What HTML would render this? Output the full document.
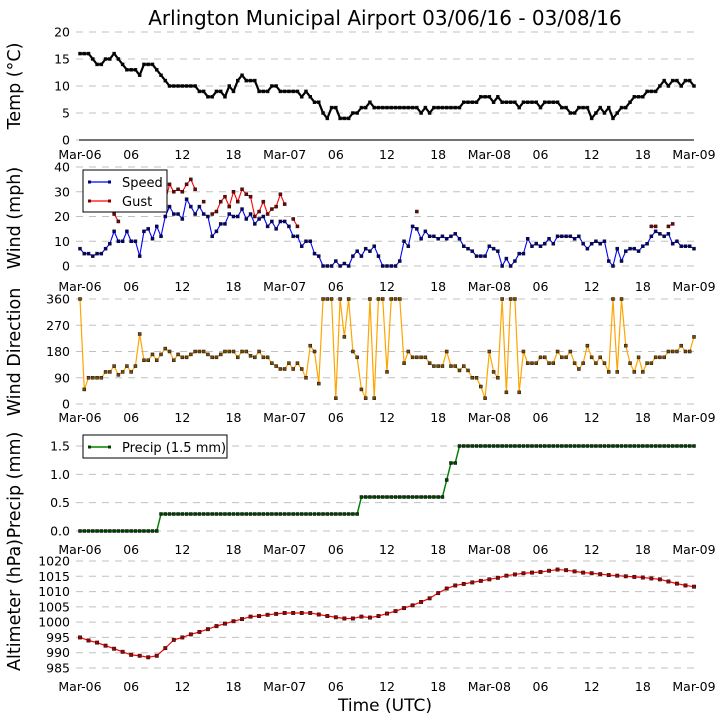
<!DOCTYPE html>
<html><head><meta charset="utf-8"><style>
html,body{margin:0;padding:0;background:#fff;}
svg{display:block;font-family:"DejaVu Sans","Liberation Sans",sans-serif;}
</style></head><body>
<svg id="chart" width="726" height="725" viewBox="0 0 726 725" xmlns="http://www.w3.org/2000/svg">
<text x="385" y="25" font-size="20" text-anchor="middle">Arlington Municipal Airport 03/06/16 - 03/08/16</text>
<text x="385" y="711" font-size="17" text-anchor="middle">Time (UTC)</text>
</svg>
<script>
// ---- data (half-hourly unless noted) ----
const xTickLabels = ["Mar-06","06","12","18","Mar-07","06","12","18","Mar-08","06","12","18","Mar-09"];
const tempC = [16,16,16,15,14,14,15,15,16,15,14,13,13,13,12,14,14,14,13,12,11,10,10,10,10,10,10,10,9,9,8,8,9,9,8,10,9,11,12,11,11,11,9,9,9,10,10,9,9,9,9,9,8,9,8,7,7,5,4,6,6,4,4,4,5,5,6,6,7,6,6,6,6,6,6,6,6,6,6,6,5,6,5,6,6,6,6,6,6,6,7,7,7,7,8,8,8,7,8,7,7,7,7,6,7,7,7,7,6,7,7,7,7,6,6,5,5,6,6,6,4,5,6,5,6,4,5,6,6,7,8,8,8,9,9,9,10,11,10,11,11,10,11,11,10];
const windSpeed = [7,5,5,4,5,5,7,9,14,10,10,14,10,10,4,14,15,11,16,12,20,24,21,21,19,27,24,21,24,21,20,12,14,17,17,21,20,20,23,19,21,17,19,20,16,18,15,18,18,16,12,12,8,10,10,5,4,0,0,0,2,0,1,0,4,6,4,7,6,8,4,0,0,0,0,2,10,8,16,15,11,14,12,12,11,12,11,12,13,11,8,7,6,4,4,4,8,7,6,0,3,0,2,5,5,11,8,9,8,9,11,9,12,12,12,12,11,12,9,7,9,10,9,10,2,0,7,2,6,7,7,6,8,9,12,14,13,12,13,9,10,8,8,8,7];
const windGust = [null,null,null,null,null,null,null,24,21,18,null,null,null,null,null,null,null,null,null,null,26,33,30,31,30,33,35,31,null,26,null,21,22,26,28,24,30,26,31,29,28,20,22,26,21,23,24,29,25,null,19,16,null,null,null,null,null,null,null,null,null,null,null,null,null,null,null,null,null,null,null,null,null,null,null,null,null,null,null,22,null,null,null,null,null,null,null,null,null,null,null,null,null,null,null,null,null,null,null,null,null,null,null,null,null,null,null,null,null,null,null,null,null,null,null,null,null,null,null,null,null,null,null,null,null,null,null,null,null,null,null,null,null,null,16,16,null,null,16,17,null,null,null,null,null];
const windDir = [360,50,90,90,90,90,110,110,130,100,110,130,110,130,240,150,150,170,150,170,190,180,150,170,160,160,170,180,180,180,170,160,160,170,180,180,180,160,180,180,165,160,180,160,160,140,130,120,120,140,120,140,120,90,200,180,70,360,360,360,20,360,230,360,180,160,50,20,360,20,360,360,110,360,360,360,140,180,160,160,160,160,140,130,130,130,180,130,130,115,130,115,90,90,60,20,180,110,90,360,40,360,360,40,180,140,140,140,160,160,140,140,180,160,160,180,140,120,140,200,160,140,160,140,110,360,110,360,200,140,110,160,110,140,140,160,160,160,180,180,180,200,180,180,230];
const precip = [0,0,0,0,0,0,0,0,0,0,0,0,0,0,0,0,0,0,0,0.3,0.3,0.3,0.3,0.3,0.3,0.3,0.3,0.3,0.3,0.3,0.3,0.3,0.3,0.3,0.3,0.3,0.3,0.3,0.3,0.3,0.3,0.3,0.3,0.3,0.3,0.3,0.3,0.3,0.3,0.3,0.3,0.3,0.3,0.3,0.3,0.3,0.3,0.3,0.3,0.3,0.3,0.3,0.3,0.3,0.3,0.3,0.6,0.6,0.6,0.6,0.6,0.6,0.6,0.6,0.6,0.6,0.6,0.6,0.6,0.6,0.6,0.6,0.6,0.6,0.6,0.6,0.9,1.2,1.2,1.5,1.5,1.5,1.5,1.5,1.5,1.5,1.5,1.5,1.5,1.5,1.5,1.5,1.5,1.5,1.5,1.5,1.5,1.5,1.5,1.5,1.5,1.5,1.5,1.5,1.5,1.5,1.5,1.5,1.5,1.5,1.5,1.5,1.5,1.5,1.5,1.5,1.5,1.5,1.5,1.5,1.5,1.5,1.5,1.5,1.5,1.5,1.5,1.5,1.5,1.5,1.5,1.5,1.5,1.5,1.5];
// hourly
const altimeter = [995,994,993.3,992.3,991.3,990.3,989.3,989,988.5,989,991.5,994.2,995,996,996.8,997.7,998.7,999.5,1000.3,1001,1001.8,1002,1002.4,1002.7,1003,1003,1003,1003,1002.5,1002,1001.6,1001.2,1001.2,1001.8,1001.5,1002,1002.8,1003.6,1004.6,1005.5,1006.6,1007.8,1009.5,1011,1012,1012.5,1013,1013.5,1014,1014.5,1015.2,1015.6,1016,1016.2,1016.4,1016.8,1017.2,1017,1016.6,1016.2,1016,1015.7,1015.4,1015.2,1015,1014.8,1014.6,1014.3,1014,1013.3,1012.6,1012,1011.6];
const tempTicks = [0,5,10,15,20];
const windTicks = [0,10,20,30,40];
const dirTicks = [0,90,180,270,360];
const precipTicks = ["0.0","0.5","1.0","1.5"];
const altTicks = [985,990,995,1000,1005,1010,1015,1020];

const NS="http://www.w3.org/2000/svg";
const svg=document.getElementById('chart');
const X0=80, X1=694, HOURS=72;
function xh(h){return X0+(X1-X0)*h/HOURS;}
function mk(tag,attrs,parent){const e=document.createElementNS(NS,tag);for(const k in attrs)e.setAttribute(k,attrs[k]);(parent||svg).appendChild(e);return e;}

function panel(name,vmin,vmax,ytop,ybot,ticks,ylabel,ylabelY,tickLabelY,solidBase){
  const g=mk('g',{});
  
  
  const y=v=>ybot-(v-vmin)/(vmax-vmin)*(ybot-ytop);
  ticks.forEach(t=>{
    const v=parseFloat(t), yy=y(v);
    const gl=mk('line',{x1:76,x2:X1+2,y1:yy,y2:yy,stroke:'#c0c0c0','stroke-width':1,'stroke-dasharray':'7,6'},g);
    
    
    const tl=mk('text',{x:70,y:yy+4.5,'font-size':12.5,'text-anchor':'end'},g);
    tl.textContent=t;
    
    
  });
  if(solidBase){
    const b=mk('line',{x1:79,x2:X1,y1:ybot,y2:ybot,stroke:'#222','stroke-width':1.2},g);
    
    
  }
  xTickLabels.forEach((l,k)=>{
    const t=mk('text',{x:xh(k*6),y:tickLabelY+5,'font-size':12.5,'text-anchor':'middle'},g);
    t.textContent=l;
    
    
  });
  const yl=mk('text',{x:0,y:0,'font-size':17.5,'text-anchor':'middle',transform:`translate(27,${ylabelY}) rotate(-90)`},g);
  yl.textContent=ylabel;
  
  
  return {g,y};
}

function series(p,name,vals,step,color,mcolor,lw,ms){
  const sg=mk('g',{},p.g);
  
  
  let segs=[],cur=[];
  vals.forEach((v,i)=>{ if(v===null){ if(cur.length)segs.push(cur);cur=[];} else cur.push([xh(i*step),p.y(v)]); });
  if(cur.length)segs.push(cur);
  segs.forEach(s=>{
    if(s.length>1){
      const pl=mk('polyline',{points:s.map(q=>q.join(',')).join(' '),fill:'none',stroke:color,'stroke-width':lw,'stroke-linejoin':'round'},sg);
      
      
    }
  });
  vals.forEach((v,i)=>{
    if(v===null)return;
    const r=mk('rect',{x:xh(i*step)-ms/2,y:p.y(v)-ms/2,width:ms,height:ms,fill:mcolor,stroke:'#111','stroke-width':0.5},sg);
    
    
  });
}

function legend(name,x,y,w,h,items){
  const lg=mk('g',{});
  
  
  mk('rect',{x,y,width:w,height:h,fill:'#fff',stroke:'#000','stroke-width':1},lg);
  items.forEach((it,k)=>{
    const yy=y+12+k*19;
    const e=mk('g',{},lg);
    
    
    mk('line',{x1:x+6,x2:x+27,y1:yy,y2:yy,stroke:it.c,'stroke-width':it.lw||1.2},e);
    mk('rect',{x:x+5,y:yy-1.5,width:3,height:3,fill:it.m},e);
    mk('rect',{x:x+25,y:yy-1.5,width:3,height:3,fill:it.m},e);
    const t=mk('text',{x:x+39,y:yy+5,'font-size':13},e);
    t.textContent=it.t;
  });
}

const p1=panel('temp',0,20,32,140,tempTicks,'Temp (\u00B0C)',86,154,true);
series(p1,'temperature',tempC,0.5,'#000','#000',2.2,3);

const p2=panel('wind',0,40,167,266,windTicks,'Wind (mph)',218,286,false);
series(p2,'wind-speed',windSpeed,0.5,'#0000ff','#000080',1.1,3);
series(p2,'wind-gust',windGust,0.5,'#ff0000','#800000',1.1,3);
legend('wind-legend',83,170,84,42,[{t:'Speed',c:'#0000ff',m:'#000080'},{t:'Gust',c:'#ff0000',m:'#800000'}]);

const p3=panel('direction',0,360,299,404,dirTicks,'Wind Direction',352,417,false);
series(p3,'wind-direction',windDir,0.5,'#ffa500','#7a4a00',1.2,3);

const p4=panel('precip',0,1.5,446,531,precipTicks,'Precip (mm)',485,549,false);
series(p4,'precipitation',precip,0.5,'#008000','#004000',1.5,3);
legend('precip-legend',83,435,144,23,[{t:'Precip (1.5 mm)',c:'#008000',m:'#004000',lw:1.6}]);

const p5=panel('altimeter',985,1020,561,668,altTicks,'Altimeter (hPa)',605,686,false);
series(p5,'altimeter',altimeter,1,'#ff0000','#a00000',1.2,3.4);

// move y-axis titles left to match reference
svg.querySelectorAll('text[transform]').forEach(t=>{
  t.setAttribute('transform', t.getAttribute('transform').replace('translate(27,','translate(20,'));
});
</script>
</body></html>
